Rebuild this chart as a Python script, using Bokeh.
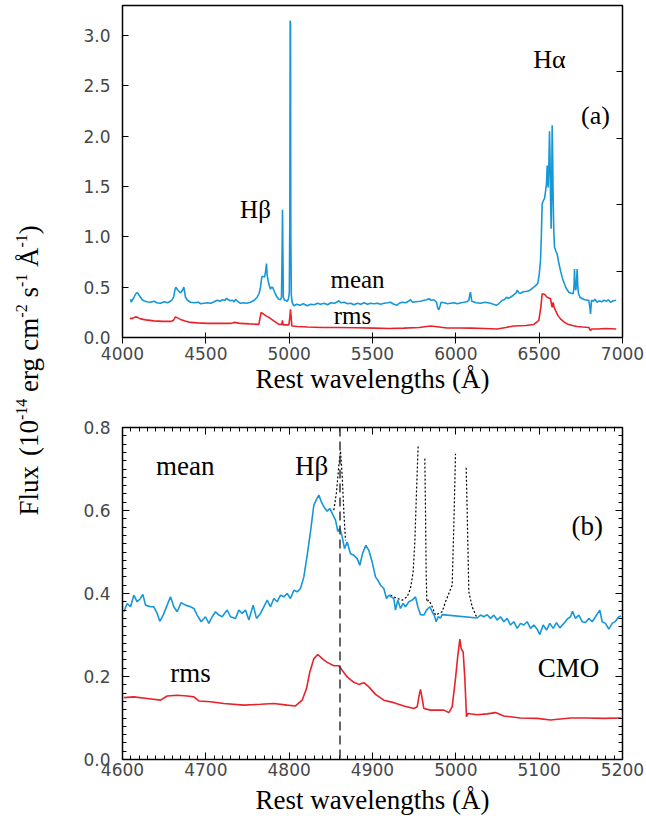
import numpy as np
from bokeh.plotting import figure
from bokeh.models import (Label, Span, LinearAxis, FixedTicker, SingleIntervalTicker,
                          PrintfTickFormatter, Range1d)
from bokeh.layouts import row, column
from bokeh.embed import file_html
from bokeh.resources import INLINE

# ---------------- data: panel (a), full spectrum ----------------
a_mean_wl = [4048, 4053, 4058, 4066, 4078, 4086, 4092, 4100, 4108, 4118, 4128, 4145, 4168, 4190, 4205,
             4228, 4250, 4270, 4288, 4300, 4308, 4314, 4320, 4330, 4338, 4346, 4352, 4360, 4368, 4373,
             4378, 4390, 4408, 4430, 4455, 4470, 4488, 4510, 4530, 4550, 4568, 4585, 4600, 4615, 4624,
             4635, 4648, 4660, 4670, 4678, 4690, 4708, 4725, 4745, 4768, 4790, 4808, 4820, 4828, 4834,
             4838, 4845, 4852, 4858, 4864, 4868, 4874, 4880, 4888, 4895, 4900, 4908, 4918, 4928, 4938,
             4948, 4954, 4958, 4960, 4962, 4965, 4972, 4980, 4988, 4995, 4998, 5001, 5004, 5006, 5008,
             5010, 5013, 5018, 5028, 5045, 5065, 5085, 5108, 5130, 5150, 5170, 5188, 5210, 5230, 5250,
             5270, 5285, 5298, 5310, 5330, 5350, 5370, 5388, 5410, 5430, 5450, 5470, 5488, 5510, 5530,
             5548, 5570, 5590, 5608, 5628, 5648, 5660, 5678, 5700, 5715, 5728, 5740, 5760, 5788, 5810,
             5825, 5838, 5852, 5868, 5878, 5884, 5892, 5898, 5905, 5912, 5930, 5950, 5968, 5990, 6010,
             6030, 6048, 6065, 6078, 6084, 6088, 6092, 6096, 6120, 6148, 6175, 6208, 6225, 6244, 6260,
             6278, 6290, 6304, 6315, 6328, 6345, 6360, 6368, 6378, 6388, 6405, 6428, 6445, 6468, 6482,
             6492, 6500, 6508, 6513, 6518, 6525, 6532, 6538, 6544, 6548, 6551, 6554, 6558, 6562, 6565,
             6568, 6572, 6575, 6578, 6581, 6584, 6588, 6592, 6600, 6608, 6618, 6628, 6638, 6648, 6662,
             6678, 6692, 6704, 6709, 6712, 6716, 6720, 6724, 6728, 6732, 6736, 6745, 6758, 6775, 6790,
             6798, 6804, 6808, 6811, 6814, 6825, 6835, 6848, 6860, 6875, 6888, 6905, 6915, 6928, 6945,
             6962]
a_mean_flux = [0.38, 0.35, 0.37, 0.39, 0.43, 0.445, 0.44, 0.42, 0.40, 0.375, 0.365, 0.355, 0.35, 0.36, 0.345,
               0.34, 0.355, 0.345, 0.36, 0.38, 0.41, 0.47, 0.50, 0.475, 0.46, 0.445, 0.45, 0.47, 0.50, 0.45,
               0.40, 0.37, 0.35, 0.345, 0.35, 0.335, 0.34, 0.345, 0.34, 0.355, 0.37, 0.36, 0.375, 0.37, 0.39,
               0.375, 0.365, 0.37, 0.355, 0.38, 0.36, 0.34, 0.345, 0.34, 0.35, 0.37, 0.40, 0.44, 0.50, 0.58,
               0.61, 0.605, 0.60, 0.65, 0.735, 0.62, 0.56, 0.52, 0.48, 0.50, 0.50, 0.47, 0.43, 0.40, 0.38,
               0.375, 0.40, 0.90, 1.27, 0.90, 0.40, 0.37, 0.37, 0.36, 0.38, 0.41, 0.45, 1.20, 3.15, 3.12,
               1.00, 0.42, 0.35, 0.315, 0.33, 0.32, 0.335, 0.315, 0.33, 0.325, 0.34, 0.33, 0.34, 0.325, 0.345,
               0.34, 0.35, 0.365, 0.345, 0.35, 0.335, 0.34, 0.325, 0.34, 0.33, 0.345, 0.33, 0.34, 0.335, 0.34,
               0.33, 0.34, 0.345, 0.35, 0.33, 0.32, 0.34, 0.35, 0.345, 0.36, 0.375, 0.35, 0.355, 0.36, 0.37,
               0.375, 0.385, 0.37, 0.375, 0.36, 0.35, 0.29, 0.275, 0.31, 0.35, 0.345, 0.335, 0.34, 0.345, 0.335,
               0.345, 0.35, 0.355, 0.37, 0.43, 0.45, 0.40, 0.36, 0.345, 0.34, 0.35, 0.34, 0.33, 0.32, 0.34,
               0.37, 0.375, 0.40, 0.39, 0.40, 0.42, 0.44, 0.47, 0.445, 0.44, 0.455, 0.46, 0.47, 0.50, 0.52,
               0.54, 0.62, 0.765, 1.00, 1.33, 1.36, 1.38, 1.45, 1.53, 1.71, 1.60, 1.49, 1.70, 2.05, 1.80,
               1.43, 1.08, 1.50, 2.11, 1.80, 1.36, 1.05, 0.90, 0.86, 0.83, 0.74, 0.665, 0.60, 0.55, 0.49,
               0.45, 0.44, 0.435, 0.50, 0.68, 0.50, 0.47, 0.55, 0.68, 0.50, 0.435, 0.40, 0.385, 0.375, 0.37,
               0.37, 0.30, 0.235, 0.30, 0.37, 0.36, 0.38, 0.35, 0.365, 0.355, 0.37, 0.36, 0.375, 0.35, 0.365,
               0.37]

a_rms_wl = [4044, 4060, 4078, 4090, 4108, 4140, 4188, 4240, 4288, 4305, 4318, 4330, 4348, 4375, 4408,
            4450, 4508, 4580, 4648, 4670, 4690, 4708, 4760, 4818, 4826, 4832, 4840, 4848, 4862, 4878,
            4895, 4908, 4925, 4938, 4956, 4960, 4964, 4985, 4998, 5004, 5008, 5012, 5016, 5050, 5108,
            5200, 5288, 5400, 5508, 5600, 5688, 5780, 5848, 5900, 5948, 6020, 6088, 6170, 6248, 6300,
            6348, 6420, 6468, 6498, 6510, 6518, 6532, 6548, 6568, 6574, 6578, 6584, 6590, 6598, 6612,
            6628, 6648, 6668, 6700, 6728, 6760, 6798, 6804, 6808, 6815, 6848, 6900, 6962]
a_rms_flux = [0.19, 0.19, 0.205, 0.20, 0.185, 0.175, 0.165, 0.16, 0.16, 0.17, 0.205, 0.195, 0.18, 0.165, 0.15,
              0.145, 0.14, 0.14, 0.14, 0.15, 0.145, 0.14, 0.135, 0.13, 0.20, 0.25, 0.24, 0.23, 0.215, 0.20,
              0.18, 0.165, 0.145, 0.13, 0.13, 0.17, 0.125, 0.125, 0.125, 0.20, 0.28, 0.20, 0.115, 0.11, 0.105,
              0.10, 0.10, 0.097, 0.093, 0.09, 0.093, 0.10, 0.115, 0.105, 0.095, 0.095, 0.093, 0.09, 0.085, 0.10,
              0.115, 0.12, 0.13, 0.17, 0.30, 0.435, 0.43, 0.40, 0.385, 0.33, 0.30, 0.35, 0.30, 0.27, 0.22,
              0.185, 0.155, 0.135, 0.12, 0.11, 0.105, 0.10, 0.08, 0.07, 0.085, 0.085, 0.09, 0.085]

a_right_ticks = [0.66, 1.32, 1.98, 2.64]

# ---------------- data: panel (b), H-beta region ----------------
b_mean_wl = [4601.6, 4605.6, 4609.6, 4613.6, 4617.6, 4621.6, 4624.4, 4627.6, 4633.6, 4637.6, 4641.6, 4644.8,
             4648.8, 4653.6, 4657.6, 4661.6, 4665.6, 4670.4, 4675.6, 4681.6, 4685.6, 4689.6, 4694.4, 4699.6,
             4703.6, 4707.6, 4711.6, 4715.6, 4719.6, 4725.6, 4729.6, 4735.6, 4739.6, 4743.6, 4747.6, 4751.6,
             4756.8, 4760.8, 4765.6, 4769.6, 4773.6, 4777.6, 4781.6, 4785.6, 4789.6, 4793.6, 4797.6, 4801.6,
             4805.6, 4809.6, 4813.6, 4817.6, 4821.6, 4825.6, 4829.6, 4832.8, 4835.6, 4838.4, 4841.6, 4845.6,
             4848.8, 4851.6, 4855.6, 4858.4, 4860.8, 4863.6, 4866.4, 4869.6, 4873.6, 4877.6, 4881.6, 4884.8,
             4888.0, 4892.0, 4895.6, 4899.6, 4903.6, 4906.4, 4909.6, 4913.6, 4916.8, 4919.6, 4922.4, 4925.6,
             4927.6, 4930.4, 4933.6, 4936.8, 4939.6, 4943.6, 4947.6, 4951.6, 4954.4, 4957.6, 4961.6, 4964.8,
             4968.8, 4971.6, 4974.4, 4976.4, 4978.8, 4981.6, 4983.6, 5025.6, 5029.6, 5033.6, 5037.6, 5041.6,
             5045.6, 5049.6, 5053.6, 5057.6, 5061.6, 5065.6, 5069.6, 5073.6, 5077.6, 5081.6, 5085.6, 5089.6,
             5093.6, 5097.6, 5100.8, 5104.8, 5108.8, 5112.8, 5116.8, 5120.8, 5124.8, 5129.6, 5133.6, 5137.6,
             5140.0, 5143.6, 5147.6, 5151.6, 5155.6, 5159.6, 5163.6, 5167.6, 5172.8, 5175.6, 5179.6, 5183.6,
             5187.6, 5191.6, 5195.6, 5198.4]
b_mean_flux = [0.356, 0.376, 0.368, 0.396, 0.380, 0.388, 0.398, 0.372, 0.368, 0.368, 0.352, 0.333,
               0.348, 0.372, 0.392, 0.368, 0.356, 0.378, 0.372, 0.368, 0.364, 0.348, 0.332, 0.344,
               0.328, 0.344, 0.356, 0.348, 0.344, 0.360, 0.344, 0.340, 0.360, 0.352, 0.360, 0.336,
               0.372, 0.340, 0.352, 0.368, 0.384, 0.368, 0.388, 0.380, 0.396, 0.392, 0.400, 0.388,
               0.408, 0.404, 0.412, 0.440, 0.492, 0.549, 0.613, 0.627, 0.637, 0.622, 0.609, 0.598,
               0.605, 0.593, 0.577, 0.549, 0.557, 0.537, 0.508, 0.524, 0.496, 0.492, 0.484, 0.468,
               0.496, 0.516, 0.504, 0.476, 0.440, 0.432, 0.420, 0.412, 0.388, 0.396, 0.392, 0.388,
               0.360, 0.384, 0.364, 0.376, 0.368, 0.380, 0.384, 0.392, 0.368, 0.349, 0.348, 0.360,
               0.368, 0.356, 0.346, 0.332, 0.344, 0.341, 0.349, 0.341, 0.348, 0.344, 0.349, 0.340,
               0.348, 0.336, 0.344, 0.332, 0.340, 0.324, 0.332, 0.316, 0.328, 0.324, 0.332, 0.316,
               0.324, 0.314, 0.301, 0.324, 0.312, 0.328, 0.316, 0.330, 0.317, 0.328, 0.338, 0.344,
               0.357, 0.340, 0.348, 0.332, 0.330, 0.340, 0.332, 0.344, 0.360, 0.332, 0.328, 0.314,
               0.328, 0.333, 0.344, 0.346]

b_rms_wl = [4601.6, 4613.6, 4629.6, 4645.6, 4653.6, 4665.6, 4677.6, 4685.6, 4691.6, 4705.6, 4721.6, 4745.6,
            4765.6, 4781.6, 4797.6, 4807.6, 4815.6, 4820.8, 4824.8, 4829.6, 4834.4, 4839.6, 4845.6, 4853.6,
            4859.6, 4863.6, 4869.6, 4877.6, 4883.6, 4889.6, 4895.6, 4903.6, 4913.6, 4925.6, 4937.6, 4949.6,
            4953.6, 4956.0, 4957.6, 4959.6, 4961.6, 4969.6, 4977.6, 4985.6, 4991.6, 4995.6, 4999.6, 5002.4,
            5004.8, 5006.4, 5008.8, 5010.8, 5012.8, 5014.8, 5025.6, 5037.6, 5047.6, 5057.6, 5077.6, 5097.6,
            5113.6, 5137.6, 5157.6, 5177.6, 5198.4]
b_rms_flux = [0.149, 0.151, 0.147, 0.143, 0.153, 0.155, 0.153, 0.151, 0.141, 0.139, 0.135, 0.131,
              0.133, 0.135, 0.131, 0.129, 0.143, 0.171, 0.211, 0.243, 0.253, 0.243, 0.234, 0.226,
              0.226, 0.215, 0.199, 0.186, 0.181, 0.185, 0.175, 0.157, 0.143, 0.137, 0.129, 0.123,
              0.127, 0.155, 0.169, 0.147, 0.123, 0.119, 0.119, 0.119, 0.113, 0.127, 0.195, 0.251,
              0.290, 0.267, 0.259, 0.195, 0.103, 0.111, 0.108, 0.110, 0.113, 0.105, 0.100, 0.099,
              0.095, 0.100, 0.100, 0.099, 0.100]

# narrow-line (dotted) profile; NaN marks gaps where the curve leaves the plot
nan = float("nan")
b_narrow_wl = [4853.6, 4856.8, 4859.6, 4861.6, 4863.6, 4865.6, 4867.6, nan,
               4921.6, 4929.6, 4935.6, 4941.6, 4945.6, 4948.8, 4950.8, 4952.8, 4954.8, nan,
               4962.8, 4963.6, 4964.4, 4965.2, 4967.6, 4970.8, 4975.6, 4979.6, 4983.6, 4987.6,
               4991.6, 4995.6, 4997.6, 4999.6, nan,
               5012.4, 5013.6, 5015.6, 5019.6, 5023.6, 5025.6]
b_narrow_flux = [0.601, 0.644, 0.709, 0.743, 0.685, 0.597, 0.528, nan,
                 0.396, 0.388, 0.384, 0.392, 0.412, 0.452, 0.524, 0.645, 0.757, nan,
                 0.725, 0.600, 0.450, 0.380, 0.384, 0.372, 0.348, 0.352, 0.356, 0.380,
                 0.400, 0.420, 0.565, 0.737, nan,
                 0.703, 0.600, 0.404, 0.368, 0.349, 0.341]

hbeta_rest = 4861

a_labels = ["H\u03b2", "mean", "rms", "H\u03b1", "(a)"]
b_labels = ["mean", "H\u03b2", "rms", "CMO", "(b)"]
x_title = "Rest wavelengths (\u00c5)"
# y title pieces: (text, is_superscript, width in em of Times, gap before in em)
y_title_parts = [("Flux", False, 1.834, 0.0), ("(10", False, 1.333, 0.37), ("-14", True, 1.333, 0.0),
                 ("erg", False, 1.277, 0.25), ("cm", False, 1.222, 0.25), ("-2", True, 0.833, 0.0),
                 ("s", False, 0.389, 0.25), ("-1", True, 0.833, 0.0), ("\u00c5", False, 0.722, 0.25),
                 ("-1", True, 0.833, 0.0), (")", False, 0.333, 0.0)]

# ---------------- styling ----------------
SERIF = "Liberation Serif"
SANS = "DejaVu Sans"
BLUE = "#1697d7"
RED = "#e8222b"
TICKCOL = "#474747"
W_MAIN = 586


def base_fig(height, xr, yr, top, bottom):
    p = figure(width=W_MAIN, height=height, x_range=Range1d(*xr), y_range=Range1d(*yr),
               toolbar_location=None, output_backend="svg",
               min_border_left=62, min_border_right=24, min_border_top=top,
               min_border_bottom=bottom)
    p.grid.visible = False
    p.outline_line_color = "black"
    p.outline_line_width = 1.5
    p.outline_line_alpha = 1.0
    p.background_fill_color = "white"
    p.border_fill_color = "white"
    return p


def style_axis(ax, tin, tout, minor_in=0, labels=True, standoff=4):
    ax.axis_line_color = None
    ax.major_tick_line_color = "black"
    ax.major_tick_line_width = 1
    ax.major_tick_in = tin
    ax.major_tick_out = tout
    if minor_in:
        ax.minor_tick_line_color = "black"
        ax.minor_tick_line_width = 1
        ax.minor_tick_in = minor_in
        ax.minor_tick_out = 0
    else:
        ax.minor_tick_line_color = None
    ax.major_label_text_font = SANS
    ax.major_label_text_color = TICKCOL
    if labels:
        ax.major_label_text_font_size = "17px"
        ax.major_label_standoff = standoff
    else:
        ax.major_label_text_font_size = "0px"
        ax.major_label_text_alpha = 0
        ax.major_label_standoff = 0
    ax.axis_label_text_font = SERIF
    ax.axis_label_text_font_style = "normal"
    ax.axis_label_text_font_size = "27px"
    ax.axis_label_text_color = "black"


def add_text(p, x, y, txt, size):
    p.add_layout(Label(x=x, y=y, text=txt, text_font=SERIF, text_font_size=size,
                       text_align="center", text_baseline="alphabetic", text_color="black"))


# ---------------- panel (a) ----------------
pa = base_fig(400, (4000, 7000), (0, 3.3), 5, 63)
xa = pa.xaxis[0]
xa.ticker = SingleIntervalTicker(interval=500, num_minor_ticks=0)
style_axis(xa, 5, 6, standoff=3)
xa.axis_label = x_title
xa.axis_label_standoff = 1
ya = pa.yaxis[0]
ya.ticker = SingleIntervalTicker(interval=0.5, num_minor_ticks=0)
ya.formatter = PrintfTickFormatter(format="%.1f")
style_axis(ya, 6, 0, standoff=12)
ra = LinearAxis(ticker=FixedTicker(ticks=a_right_ticks))
style_axis(ra, 6, 0, labels=False)
pa.add_layout(ra, "right")

pa.line(a_mean_wl, a_mean_flux, line_color=BLUE, line_width=1.6)
pa.line(a_rms_wl, a_rms_flux, line_color=RED, line_width=1.6)

add_text(pa, 4798, 1.27, a_labels[0], "25px")
add_text(pa, 5410, 0.58, a_labels[1], "25px")
add_text(pa, 5380, 0.216, a_labels[2], "25px")
add_text(pa, 6562, 2.765, a_labels[3], "26px")
add_text(pa, 6838, 2.21, a_labels[4], "26px")

# ---------------- panel (b) ----------------
pb = base_fig(423, (4600, 5200), (0, 0.8), 27, 64)
xb = pb.xaxis[0]
xb.ticker = SingleIntervalTicker(interval=100, num_minor_ticks=10)
style_axis(xb, 7, 0, minor_in=4, standoff=3)
xb.axis_label = x_title
xb.axis_label_standoff = 6
yb = pb.yaxis[0]
yb.ticker = SingleIntervalTicker(interval=0.2, num_minor_ticks=10)
yb.formatter = PrintfTickFormatter(format="%.1f")
style_axis(yb, 7, 0, minor_in=4, standoff=12)
tb = LinearAxis(ticker=SingleIntervalTicker(interval=100, num_minor_ticks=10))
style_axis(tb, 7, 0, minor_in=4, labels=False)
pb.add_layout(tb, "above")
rb = LinearAxis(ticker=SingleIntervalTicker(interval=0.2, num_minor_ticks=10))
style_axis(rb, 7, 0, minor_in=4, labels=False)
pb.add_layout(rb, "right")

pb.add_layout(Span(location=hbeta_rest, dimension="height", line_color="#333333",
                   line_width=1.5, line_dash="9 5"))
pb.line(np.array(b_narrow_wl), np.array(b_narrow_flux), line_color="black",
        line_width=1.2, line_dash="2 2")
pb.line(b_mean_wl, b_mean_flux, line_color=BLUE, line_width=1.6)
pb.line(b_rms_wl, b_rms_flux, line_color=RED, line_width=1.6)

add_text(pb, 4675.2, 0.707, b_labels[0], "27px")
add_text(pb, 4826.8, 0.707, b_labels[1], "27px")
add_text(pb, 4681.6, 0.209, b_labels[2], "27px")
add_text(pb, 5135.2, 0.221, b_labels[3], "27px")
add_text(pb, 5157.6, 0.562, b_labels[4], "27px")

# ---------------- shared y title (built from pieces, rotated) ----------------
pl = figure(width=60, height=823, x_range=Range1d(0, 60), y_range=Range1d(0, 823),
            x_axis_type=None, y_axis_type=None, toolbar_location=None,
            output_backend="svg", min_border=0)
pl.grid.visible = False
pl.outline_line_color = None
pl.border_fill_color = "white"
pl.background_fill_color = "white"

MAIN_PX, SUP_PX = 27, 16
pos = 308.0
for txt, sup, w_em, gap_em in y_title_parts:
    pos += gap_em * MAIN_PX
    size = SUP_PX if sup else MAIN_PX
    xb_line = 21 if sup else 28
    pl.add_layout(Label(x=xb_line, y=pos, text=txt, angle=np.pi / 2, angle_units="rad",
                        text_font=SERIF, text_font_size=f"{size}px", text_align="left",
                        text_baseline="alphabetic", text_color="black"))
    pos += w_em * size

layout = row(pl, column(pa, pb))
open("out.html", "w").write(file_html(layout, INLINE))
